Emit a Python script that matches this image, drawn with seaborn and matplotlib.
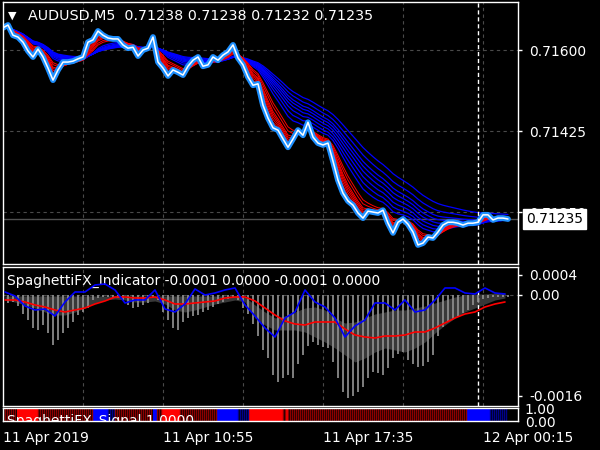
import numpy as np
import pandas as pd
import matplotlib
matplotlib.use("Agg")
import matplotlib.pyplot as plt
import matplotlib.transforms as mtransforms
import seaborn as sns

# AUDUSD M5 closes, one value every 5 bars
first_bar = 3
bar_step = 5
close = [0.71648, 0.71654, 0.71632, 0.71628, 0.71617, 0.71598, 0.71585, 0.71602, 0.71585, 0.71561,
         0.71535, 0.71557, 0.71574, 0.71574, 0.71576, 0.71581, 0.71585, 0.71617, 0.71622, 0.71641,
         0.71632, 0.71626, 0.71624, 0.71624, 0.71611, 0.71604, 0.71606, 0.71587, 0.71600, 0.71604,
         0.71628, 0.71574, 0.71561, 0.71544, 0.71557, 0.71552, 0.71546, 0.71565, 0.71578, 0.71585,
         0.71565, 0.71568, 0.71585, 0.71578, 0.71589, 0.71596, 0.71611, 0.71583, 0.71568, 0.71542,
         0.71524, 0.71527, 0.71481, 0.71453, 0.71432, 0.71427, 0.71408, 0.71390, 0.71408, 0.71427,
         0.71416, 0.71444, 0.71412, 0.71399, 0.71395, 0.71399, 0.71360, 0.71319, 0.71291, 0.71274,
         0.71265, 0.71248, 0.71237, 0.71252, 0.71250, 0.71248, 0.71254, 0.71226, 0.71205, 0.71228,
         0.71235, 0.71224, 0.71207, 0.71179, 0.71183, 0.71196, 0.71194, 0.71207, 0.71222, 0.71228,
         0.71228, 0.71226, 0.71222, 0.71226, 0.71226, 0.71228, 0.71244, 0.71244, 0.71233, 0.71237,
         0.71237, 0.71235]

# spaghetti moving averages (spans in samples of 5 bars)
red_spans = [1.5, 2, 2.5, 3, 3.5, 4, 5, 6]
blue_spans = [9, 11, 13, 15, 17, 19, 22, 26]

# SpaghettiFX_Indicator window
hist = [-0.0003, -0.00016, -0.00014, -0.00022, -0.00038, -0.0005, -0.00066, -0.0007, -0.0006, -0.00076,
        -0.001, -0.0009, -0.00076, -0.00066, -0.00054, -0.0004, -0.00034, -0.00026, -0.0001, -0.00006,
        -0.00004, -0.00004, -0.00006, -0.00006, -0.0001, -0.0002, -0.00026, -0.00024, -0.0002, -0.00016,
        -0.00004, -0.0001, -0.00034, -0.0005, -0.00066, -0.0007, -0.00054, -0.00046, -0.00042, -0.0004,
        -0.00034, -0.0003, -0.00024, -0.00018, -0.00014, -0.00008, -0.00006, -0.0001, -0.00026, -0.00038,
        -0.00058, -0.00082, -0.0011, -0.00126, -0.0016, -0.00174, -0.00166, -0.0016, -0.00166, -0.00138,
        -0.0012, -0.00102, -0.00094, -0.001, -0.00104, -0.00106, -0.00134, -0.00166, -0.00194, -0.00206,
        -0.00202, -0.00194, -0.00184, -0.00166, -0.00154, -0.00156, -0.0016, -0.00146, -0.00126, -0.00118,
        -0.00114, -0.0013, -0.00138, -0.00144, -0.00142, -0.00134, -0.0012, -0.00082, -0.00064, -0.00054,
        -0.00048, -0.00042, -0.00036, -0.0003, -0.0002, -0.00014, -0.00008, -0.00006, -0.00004, -0.00004,
        -0.00004, -0.00004]

# oscillator lines, one value every 10 bars starting at bar 5
osc_first = 5
osc_step = 10
osc_fast = [0.00006, -0.00002, -0.00022, -0.0003, -0.00028, -0.00042, -0.00014, 0.00006, 0.00006, 0.0002,
            0.00022, 0.0001, -0.00016, -0.0001, -0.0001, 0.0001, -0.00028, -0.00034, -0.00018, 0.00012,
            0.0, 0.00004, 0.0001, 0.00014, -0.0002, -0.00042, -0.00066, -0.00084, -0.00046, -0.00034,
            0.0001, -0.00014, -0.00024, -0.00046, -0.00084, -0.00062, -0.0005, -0.00016, -0.00016, -0.0003,
            -0.0001, -0.00034, -0.0003, -0.0001, 0.00014, 0.00014, 0.00004, 0.00002, 0.00014, 0.00004,
            0.00002]
osc_slow = [-0.0001, -0.0001, -0.00014, -0.0002, -0.00024, -0.0003, -0.00034, -0.0003, -0.00026, -0.00018,
            -0.00012, -0.00004, -0.00004, -0.00006, -0.00006, -0.00004, -0.0001, -0.00018, -0.00018, -0.00016,
            -0.00014, -0.00012, -0.00006, -0.00004, -0.00004, -0.00012, -0.00026, -0.0004, -0.00052, -0.00058,
            -0.0006, -0.00054, -0.00054, -0.00054, -0.00068, -0.0008, -0.00084, -0.00086, -0.00082, -0.00082,
            -0.0008, -0.00074, -0.00074, -0.00066, -0.00056, -0.00046, -0.00038, -0.00034, -0.00024, -0.00018,
            -0.00014]
band_top = [-0.00002, -0.00002, -0.00002, -0.00002, -0.00002, -0.00002, -0.00002, -0.00002, -0.00002, -0.00002,
            -0.00002, -0.00002, -0.00002, -0.00002, -0.00002, -0.00002, -0.00002, -0.00002, -0.00002, -0.00002,
            -0.00002, -0.00002, -0.00002, -0.00002, -0.00004, -0.0002, -0.00034, -0.00046, -0.00042, -0.00034,
            -0.00026, -0.00024, -0.0003, -0.00046, -0.00056, -0.00054, -0.00046, -0.00038, -0.00034, -0.0003,
            -0.0003, -0.00026, -0.00022, -0.00016, -0.0001, -0.00004, 0.0, 0.00002, 0.00002, 0.00004,
            0.00004]
band_bottom = [-0.0001, -0.00014, -0.0002, -0.00026, -0.00034, -0.0004, -0.0004, -0.00034, -0.00026, -0.00016,
               -0.0001, -0.00008, -0.0001, -0.00014, -0.00014, -0.00012, -0.00018, -0.0003, -0.00034, -0.0003,
               -0.00024, -0.00018, -0.00014, -0.0001, -0.00014, -0.00046, -0.0006, -0.0007, -0.0007, -0.0007,
               -0.00074, -0.00084, -0.00094, -0.00106, -0.0012, -0.00134, -0.00126, -0.00114, -0.00106, -0.0011,
               -0.00114, -0.00106, -0.00094, -0.00076, -0.0006, -0.00046, -0.00034, -0.00026, -0.00018, -0.0001,
               -0.00006]

# SpaghettiFX_Signal strip: R/B solid, r/b weak (striped), run lengths in bars
signal_state = ["r", "R", "r", "B", "b", "r", "B", "r", "R", "r", "B", "b", "R", "r", "R", "r", "B", "b"]
signal_len = [14, 21, 55, 15, 7, 38, 4, 5, 18, 37, 21, 11, 34, 3, 2, 179, 23, 17]

time_ticks = [3, 163, 323, 483]
time_labels = ["11 Apr 2019", "11 Apr 10:55", "11 Apr 17:35", "12 Apr 00:15"]
price_ticks = [0.71600, 0.71425, 0.71250]
last_price = 0.71235
cursor_bar = 478

sns.set_style("dark", {"axes.facecolor": "black", "figure.facecolor": "black",
                       "axes.edgecolor": "white"})
plt.rcParams['font.family'] = ['DejaVu Sans']
plt.rcParams['font.size'] = 10

fig = plt.figure(figsize=(6, 4.5), dpi=100)
ax = fig.add_axes([0.005, 0.4133, 0.8583, 0.5822])
ax_ind = fig.add_axes([0.005, 0.0978, 0.8583, 0.3089])
ax_sig = fig.add_axes([0.005, 0.0644, 0.8583, 0.0289])

x = first_bar + bar_step * np.arange(len(close))
price = pd.Series(close, index=x)

### main window
def ribbon(spans):
    frames = []
    for sp in spans:
        ma = price.ewm(span=sp).mean()
        frames.append(pd.DataFrame({"x": x, "ma": ma.values, "span": sp}))
    return pd.concat(frames)

sns.lineplot(data=ribbon(blue_spans), x="x", y="ma", units="span", estimator=None,
             color="#0000ff", lw=0.9, ax=ax)
sns.lineplot(data=ribbon(red_spans), x="x", y="ma", units="span", estimator=None,
             color="#ff0000", lw=0.7, ax=ax)
sns.lineplot(x=x, y=close, color="#1e90ff", lw=4.2, ax=ax)
sns.lineplot(x=x, y=close, color="white", lw=1.1, ax=ax)

grid_x = np.arange(83, 518, 80)
for a in (ax, ax_ind):
    for gx in grid_x:
        a.axvline(gx, color="#4a4a4a", lw=0.8, ls=(0, (3, 3)), zorder=0)
    a.axvline(cursor_bar, color="white", lw=1, ls=(0, (3, 2)))
for py in price_ticks:
    ax.axhline(py, color="#4a4a4a", lw=0.8, ls=(0, (3, 3)), zorder=0)
ax.axhline(last_price, color="#505050", lw=1, zorder=0)

ax.set_xlim(3, 518)
ax.set_ylim(0.711378, 0.717037)
ax.yaxis.tick_right()
ax.set_yticks(price_ticks)
ax.set_yticklabels(["0.71600", "0.71425", "0.71250"])
ax.set_xticks([])
ax.tick_params(axis="y", colors="white", length=3, width=1, pad=5, labelsize=10)
ax.set_xlabel("")
ax.set_ylabel("")

blend = mtransforms.blended_transform_factory(ax.transAxes, ax.transData)
ax.text(1.016, last_price, "0.71235", transform=blend, ha="left", va="center",
        color="black", fontsize=10, clip_on=False,
        bbox=dict(boxstyle="square,pad=0.2", fc="white", ec="white"))

fig.text(8 / 600, 1 - 16 / 450, "\u25bc", color="white", fontsize=8, va="center")
fig.text(28 / 600, 1 - 16 / 450, "AUDUSD,M5  0.71238 0.71238 0.71232 0.71235",
         color="white", fontsize=10.3, va="center")

### indicator window
xo = osc_first + osc_step * np.arange(len(osc_fast))
ax_ind.fill_between(xo, band_top, band_bottom, color="#383838", lw=0, zorder=1)
ax_ind.vlines(x, 0, hist, color="#8a8a8a", lw=1.3, zorder=2)
ax_ind.axhline(0, color="#4a4a4a", lw=0.8, ls=(0, (3, 3)), zorder=0)
sns.lineplot(x=xo, y=osc_slow, color="#ff0000", lw=1.2, ax=ax_ind, zorder=3)
sns.lineplot(x=xo, y=osc_fast, color="#0000ff", lw=1.2, ax=ax_ind, zorder=4)
ax_ind.set_xlim(3, 518)
ax_ind.set_ylim(-0.00222, 0.00056)
ax_ind.yaxis.tick_right()
ax_ind.set_yticks([0.0004, 0.0, -0.00202])
ax_ind.set_yticklabels(["0.0004", "0.00", "-0.0016"])
ax_ind.set_xticks([])
ax_ind.tick_params(axis="y", colors="white", length=3, width=1, pad=5, labelsize=10)
ax_ind.text(4 / 515, 1 - 14 / 139, "SpaghettiFX_Indicator -0.0001 0.0000 -0.0001 0.0000",
            transform=ax_ind.transAxes, color="white", fontsize=10, va="center")

### signal strip
colors = {"R": "#ff0000", "B": "#0000ff", "r": "#8b0000", "b": "#00008b"}
start = first_bar
for state, n in zip(signal_state, signal_len):
    if state.isupper():
        ax_sig.axvspan(start, start + n, color=colors[state], lw=0)
    else:
        ax_sig.vlines(np.arange(start, start + n, 2) + 0.5, 0, 1, color=colors[state], lw=1)
    start += n
ax_sig.text(4 / 515, 0.55, "SpaghettiFX_Signal 1.0000", transform=ax_sig.transAxes,
            color="white", fontsize=10, va="top", clip_on=True)
ax_sig.set_xlim(3, 518)
ax_sig.set_ylim(0, 1)
ax_sig.yaxis.tick_right()
ax_sig.set_yticks([1, 0])
ax_sig.set_yticklabels(["1.00", "0.00"])
ax_sig.tick_params(axis="y", colors="white", length=0, pad=5, labelsize=10)
ax_sig.set_xticks(time_ticks)
ax_sig.set_xticklabels(time_labels, ha="left")
ax_sig.tick_params(axis="x", colors="white", length=4, width=1, pad=3, labelsize=10,
                   direction="out")

for a in (ax, ax_ind, ax_sig):
    for sp in a.spines.values():
        sp.set_color("white")
        sp.set_linewidth(1)
    a.grid(False)

fig.savefig("out.png", dpi=100, facecolor="black")
